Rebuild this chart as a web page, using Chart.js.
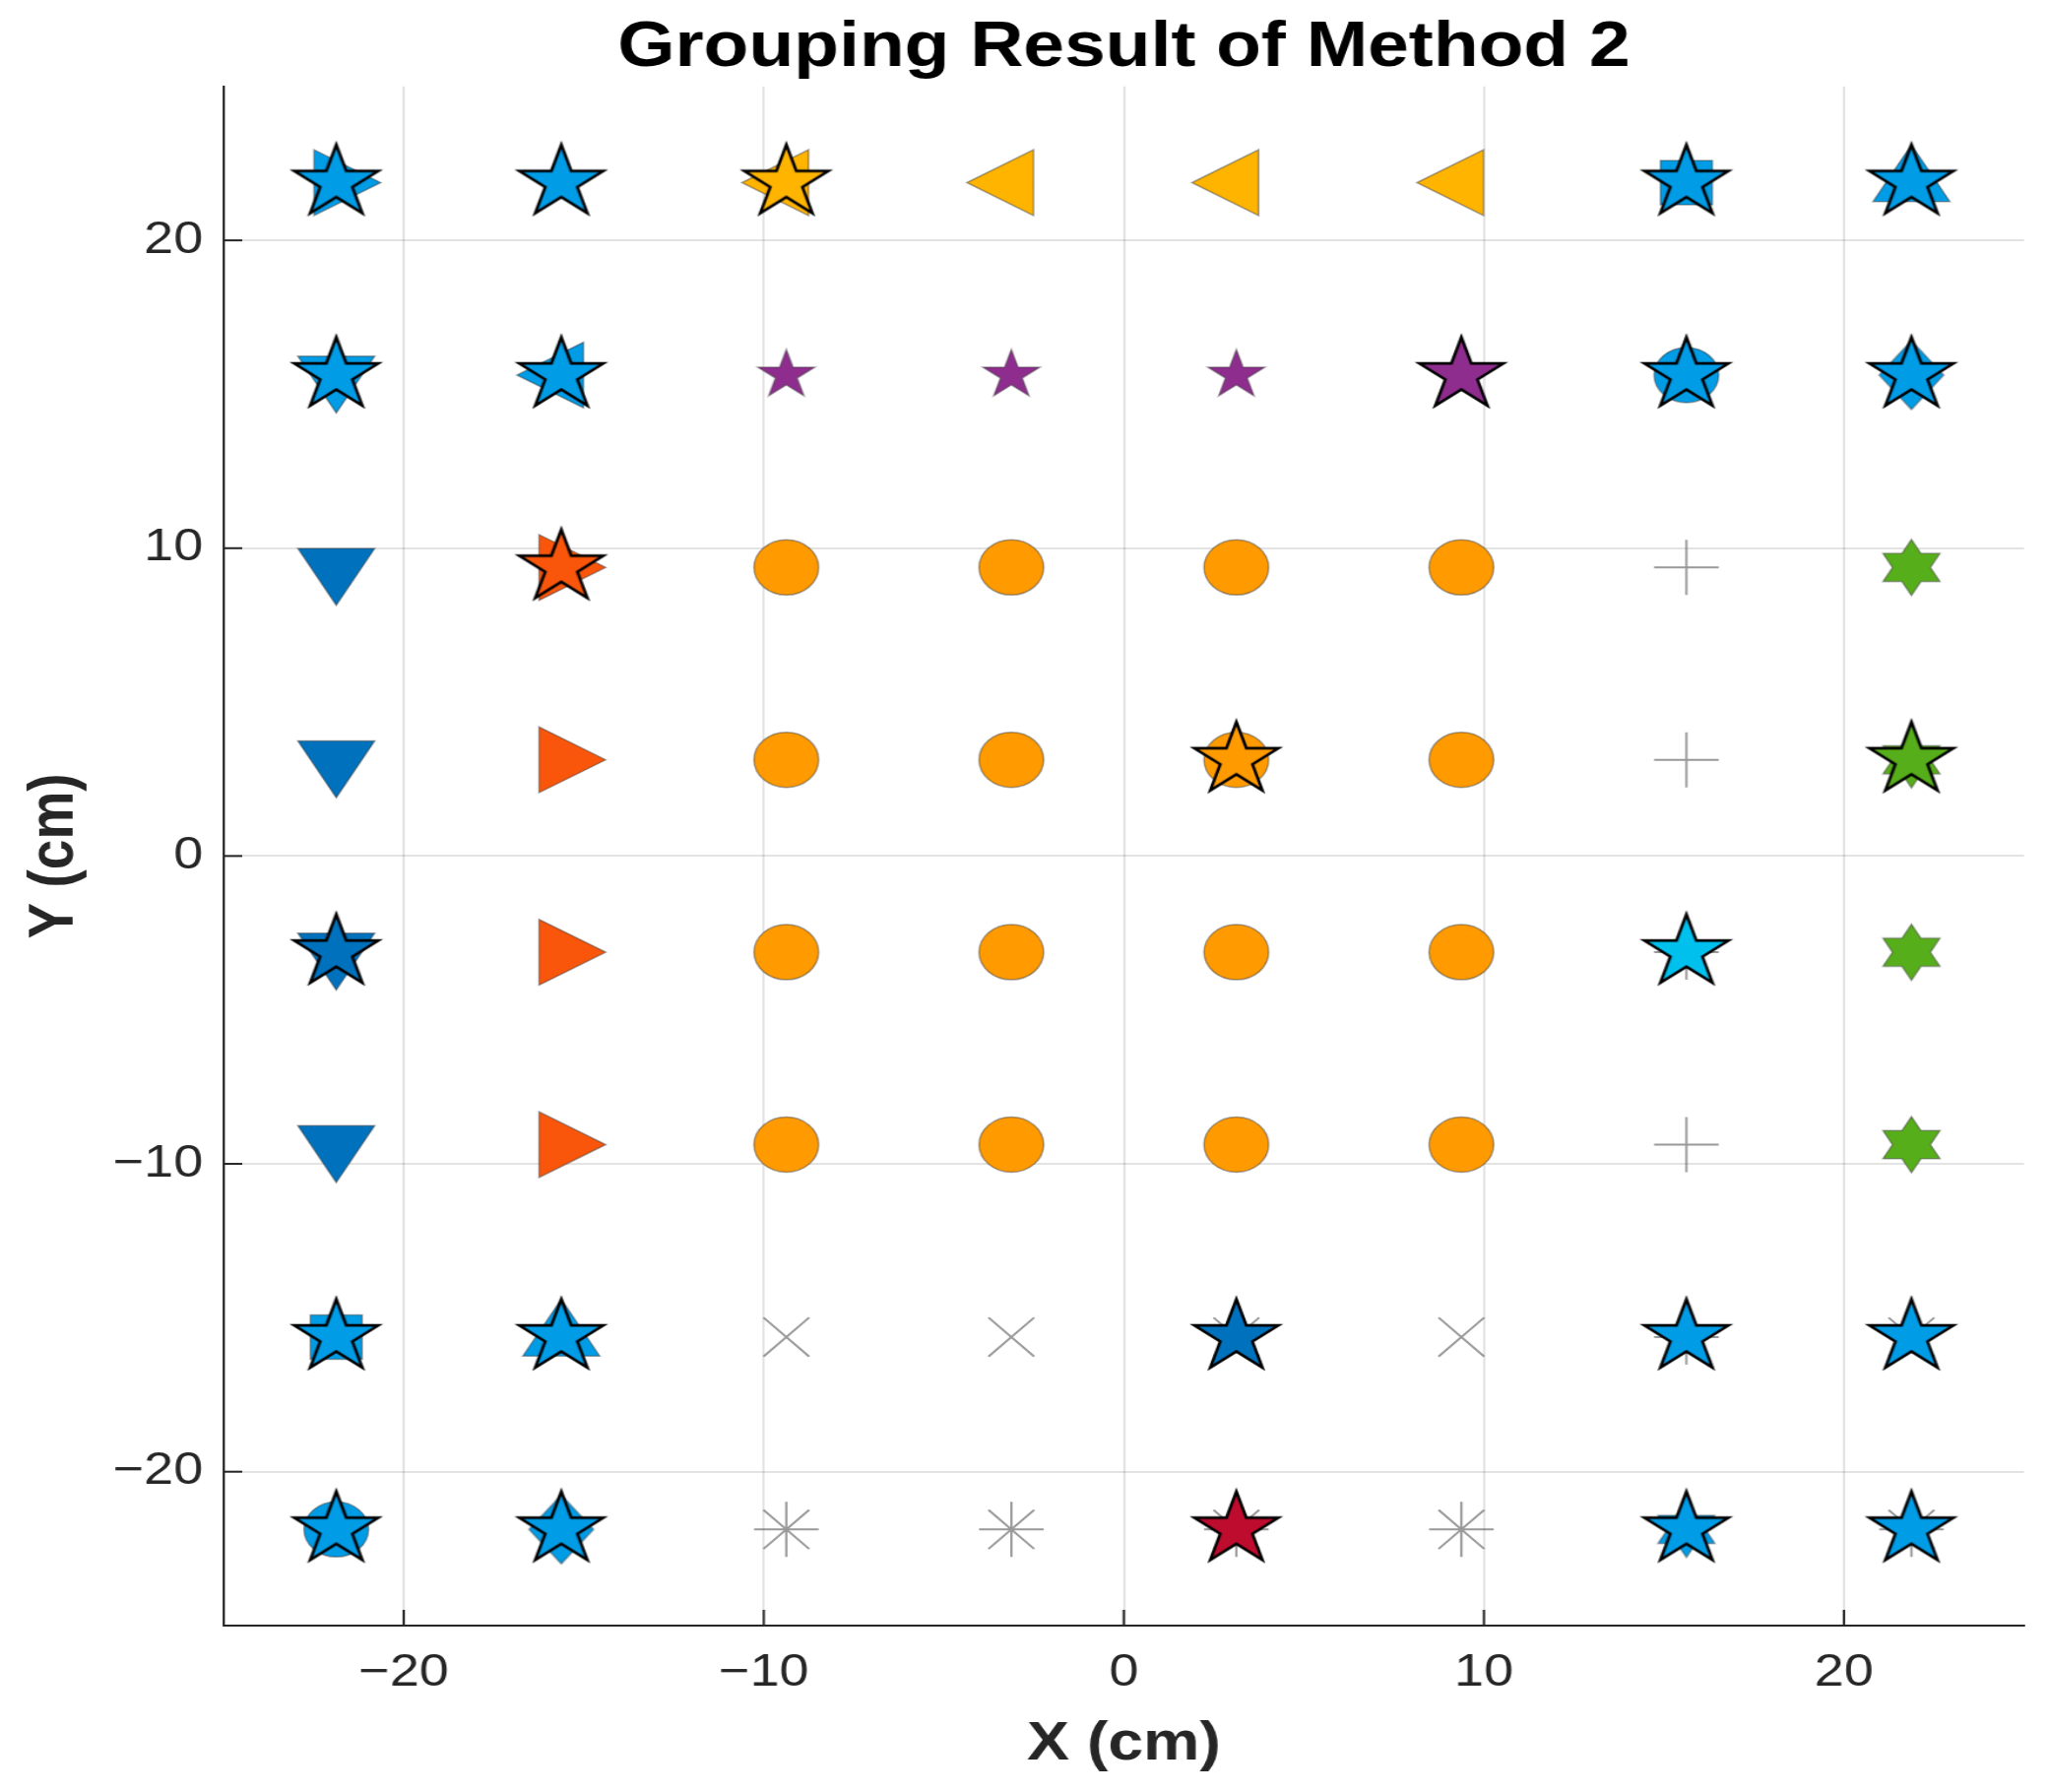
<!DOCTYPE html>
<html lang="en">
<head>
    <meta charset="UTF-8">
    <title>Grouping Result of Method 2</title>
    <style>
        html, body {
            margin: 0;
            padding: 0;
            background: #FFFFFF;
            overflow: hidden;
        }
        /* the reference is stretched sideways, so the chart is drawn narrower and scaled out */
        .chart-container {
            width: 1795px;
            height: 1820px;
            position: relative;
            transform: scaleX(1.17127);
            transform-origin: 0 0;
        }
    </style>
</head>
<body>
    <div class="chart-container">
        <canvas id="groupChart"></canvas>
    </div>

    <script src="https://cdn.jsdelivr.net/npm/chart.js"></script>
    <script>
        // cell centres of the 8 x 8 grid (cm)
        const xCentres = [-21.875, -15.625, -9.375, -3.125, 3.125, 9.375, 15.625, 21.875];
        const yCentres = [21.875, 15.625, 9.375, 3.125, -3.125, -9.375, -15.625, -21.875]; // top row first
        const tickValues = [-20, -10, 0, 10, 20];

        // true class of every cell, rows from top to bottom (0 = nothing shown)
        const trueClass = [
            [1, 0, 2, 2, 2, 2, 3, 4],
            [5, 6, 7, 7, 7, 7, 8, 9],
            [10, 11, 12, 12, 12, 12, 13, 14],
            [10, 11, 12, 12, 12, 12, 13, 14],
            [10, 11, 12, 12, 12, 12, 13, 14],
            [10, 11, 12, 12, 12, 12, 13, 14],
            [3, 4, 15, 15, 15, 15, 13, 15],
            [8, 9, 16, 16, 16, 16, 17, 16]
        ];

        // group found by method 2, drawn as a star on top (0 = no star)
        const groupResult = [
            [1, 1, 2, 0, 0, 0, 1, 1],
            [1, 1, 0, 0, 0, 3, 1, 1],
            [0, 4, 0, 0, 0, 0, 0, 0],
            [0, 0, 0, 0, 5, 0, 0, 6],
            [7, 0, 0, 0, 0, 0, 8, 0],
            [0, 0, 0, 0, 0, 0, 0, 0],
            [1, 1, 0, 0, 7, 0, 1, 1],
            [1, 1, 0, 0, 9, 0, 1, 1]
        ];

        const BLUE = '#009CE6';
        const DARK_BLUE = '#0072BD';
        const YELLOW = '#FFB400';
        const ORANGE = '#FF9A00';
        const RED_ORANGE = '#F9560B';
        const PURPLE = '#8E2D8E';
        const GREEN = '#57AE1B';
        const CYAN = '#00C0EE';
        const CRIMSON = '#BE0C2F';
        const EDGE = 'rgba(60, 60, 60, 0.45)';
        const GREY_LINE = 'rgba(70, 70, 70, 0.55)';
        const FONT = '"Liberation Sans", Arial, Helvetica, sans-serif';

        function shapeCanvas(halfW, halfH, pad, drawPath) {
            const c = document.createElement('canvas');
            c.width = Math.ceil(2 * (halfW + pad));
            c.height = Math.ceil(2 * (halfH + pad));
            const g = c.getContext('2d');
            g.translate(c.width / 2, c.height / 2);
            g.beginPath();
            drawPath(g);
            g.closePath();
            return { c, g };
        }

        function makeStar(outer, fill, stroke, lw) {
            const { c, g } = shapeCanvas(outer, outer, lw * 2 + 2, g => {
                for (let i = 0; i < 10; i++) {
                    const r = i % 2 ? outer * 0.382 : outer;
                    const a = -Math.PI / 2 + i * Math.PI / 5;
                    g.lineTo(r * Math.cos(a), r * Math.sin(a));
                }
            });
            g.fillStyle = fill;
            g.fill();
            g.lineJoin = 'miter';
            g.lineWidth = lw;
            g.strokeStyle = stroke;
            g.stroke();
            return c;
        }

        function makeHexagram(outer, fill) {
            const { c, g } = shapeCanvas(outer, outer, 3, g => {
                for (let i = 0; i < 12; i++) {
                    const r = i % 2 ? outer / Math.sqrt(3) : outer;
                    const a = -Math.PI / 2 + i * Math.PI / 6;
                    g.lineTo(r * Math.cos(a), r * Math.sin(a));
                }
            });
            g.fillStyle = fill;
            g.fill();
            g.lineWidth = 1.5;
            g.strokeStyle = EDGE;
            g.stroke();
            return c;
        }

        function makeDiamond(halfW, halfH, fill) {
            const { c, g } = shapeCanvas(halfW, halfH, 3, g => {
                g.moveTo(0, -halfH);
                g.lineTo(halfW, 0);
                g.lineTo(0, halfH);
                g.lineTo(-halfW, 0);
            });
            g.fillStyle = fill;
            g.fill();
            g.lineWidth = 1.5;
            g.strokeStyle = EDGE;
            g.stroke();
            return c;
        }

        // marker used for each true class
        const classStyles = {
            1: { pointStyle: 'triangle', pointRotation: 90, pointRadius: 38.5, pointBackgroundColor: BLUE },
            2: { pointStyle: 'triangle', pointRotation: 270, pointRadius: 38.5, pointBackgroundColor: YELLOW },
            3: { pointStyle: 'rect', pointRadius: 31.8, pointBackgroundColor: BLUE },
            4: { pointStyle: 'triangle', pointRotation: 0, pointRadius: 38.5, pointBackgroundColor: BLUE },
            5: { pointStyle: 'triangle', pointRotation: 180, pointRadius: 38.5, pointBackgroundColor: BLUE },
            6: { pointStyle: 'triangle', pointRotation: 270, pointRadius: 38.5, pointBackgroundColor: BLUE },
            7: { pointStyle: makeStar(26, PURPLE, EDGE, 1.5), pointRadius: 26 },
            8: { pointStyle: 'circle', pointRadius: 28, pointBackgroundColor: BLUE },
            9: { pointStyle: makeDiamond(28, 35, BLUE), pointRadius: 30 },
            10: { pointStyle: 'triangle', pointRotation: 180, pointRadius: 38.5, pointBackgroundColor: DARK_BLUE },
            11: { pointStyle: 'triangle', pointRotation: 90, pointRadius: 38.5, pointBackgroundColor: RED_ORANGE },
            12: { pointStyle: 'circle', pointRadius: 28, pointBackgroundColor: ORANGE },
            13: { pointStyle: 'cross', pointRadius: 28, pointBorderColor: GREY_LINE, pointBorderWidth: 2 },
            14: { pointStyle: makeHexagram(28.5, GREEN), pointRadius: 28 },
            15: { pointStyle: 'crossRot', pointRadius: 28, pointBorderColor: GREY_LINE, pointBorderWidth: 2 },
            16: { pointStyle: 'star', pointRadius: 28, pointBorderColor: GREY_LINE, pointBorderWidth: 2 },
            17: { pointStyle: makeHexagram(28.5, BLUE), pointRadius: 28 }
        };

        // star colour for each group
        const groupColours = {
            1: BLUE, 2: YELLOW, 3: PURPLE, 4: RED_ORANGE, 5: ORANGE,
            6: GREEN, 7: DARK_BLUE, 8: CYAN, 9: CRIMSON
        };

        function cellsOf(grid, id) {
            const pts = [];
            grid.forEach((row, r) => row.forEach((v, c) => {
                if (v === id) pts.push({ x: xCentres[c], y: yCentres[r] });
            }));
            return pts;
        }

        const datasets = [];
        Object.keys(groupColours).forEach(k => {
            datasets.push({
                label: 'group ' + k,
                data: cellsOf(groupResult, Number(k)),
                pointStyle: makeStar(38.5, groupColours[k], '#000000', 2.6),
                pointRadius: 38,
                order: 0
            });
        });
        Object.keys(classStyles).forEach(k => {
            datasets.push(Object.assign({
                label: 'class ' + k,
                data: cellsOf(trueClass, Number(k)),
                pointBorderColor: EDGE,
                pointBorderWidth: 1.5,
                order: 1
            }, classStyles[k]));
        });

        // inward tick marks on the left and bottom axes
        const inwardTicks = {
            id: 'inwardTicks',
            beforeDatasetsDraw(chart) {
                const { ctx, chartArea, scales } = chart;
                ctx.save();
                ctx.strokeStyle = '#262626';
                ctx.lineWidth = 2;
                tickValues.forEach(v => {
                    const px = scales.x.getPixelForValue(v);
                    ctx.beginPath();
                    ctx.moveTo(px, chartArea.bottom);
                    ctx.lineTo(px, chartArea.bottom - 16);
                    ctx.stroke();
                    const py = scales.y.getPixelForValue(v);
                    ctx.beginPath();
                    ctx.moveTo(chartArea.left, py);
                    ctx.lineTo(chartArea.left + 16, py);
                    ctx.stroke();
                });
                ctx.restore();
            }
        };

        const tickLabel = v => (v < 0 ? '\u2212' + Math.abs(v) : String(v));

        const ctx = document.getElementById('groupChart').getContext('2d');
        const groupChart = new Chart(ctx, {
            type: 'scatter',
            data: { datasets },
            plugins: [inwardTicks],
            options: {
                responsive: true,
                maintainAspectRatio: false,
                animation: false,
                events: [],
                layout: { padding: { top: 0, right: 0, bottom: 0, left: 0 } },
                plugins: {
                    legend: { display: false },
                    tooltip: { enabled: false },
                    title: {
                        display: true,
                        text: 'Grouping Result of Method 2',
                        fullSize: false,
                        color: '#000000',
                        font: { family: FONT, size: 64, weight: 'bold' },
                        padding: { top: 11, bottom: 0 }
                    }
                },
                scales: {
                    x: {
                        type: 'linear',
                        min: -25,
                        max: 25,
                        afterBuildTicks: s => { s.ticks = tickValues.map(v => ({ value: v })); },
                        afterFit: s => {
                            s.height = 169;
                            s.paddingLeft = 0;
                            s.paddingRight = 0;
                        },
                        grid: { color: 'rgba(0, 0, 0, 0.11)', lineWidth: 2, drawTicks: false },
                        border: { display: true, color: '#262626', width: 2 },
                        ticks: {
                            padding: 21,
                            maxRotation: 0,
                            color: '#262626',
                            font: { family: FONT, size: 46 },
                            callback: tickLabel
                        },
                        title: {
                            display: true,
                            text: 'X (cm)',
                            color: '#262626',
                            font: { family: FONT, size: 55, weight: 'bold' },
                            padding: { top: 0, bottom: 15 }
                        }
                    },
                    y: {
                        type: 'linear',
                        min: -25,
                        max: 25,
                        afterBuildTicks: s => { s.ticks = tickValues.map(v => ({ value: v })); },
                        afterFit: s => { s.width = 194; },
                        grid: { color: 'rgba(0, 0, 0, 0.11)', lineWidth: 2, drawTicks: false },
                        border: { display: true, color: '#262626', width: 2 },
                        ticks: {
                            padding: 18,
                            color: '#262626',
                            font: { family: FONT, size: 46 },
                            callback: tickLabel
                        },
                        title: {
                            display: true,
                            text: 'Y (cm)',
                            color: '#262626',
                            font: { family: FONT, size: 55, weight: 'bold' },
                            padding: { top: 15, bottom: 0 }
                        }
                    }
                }
            }
        });
    </script>
</body>
</html>
